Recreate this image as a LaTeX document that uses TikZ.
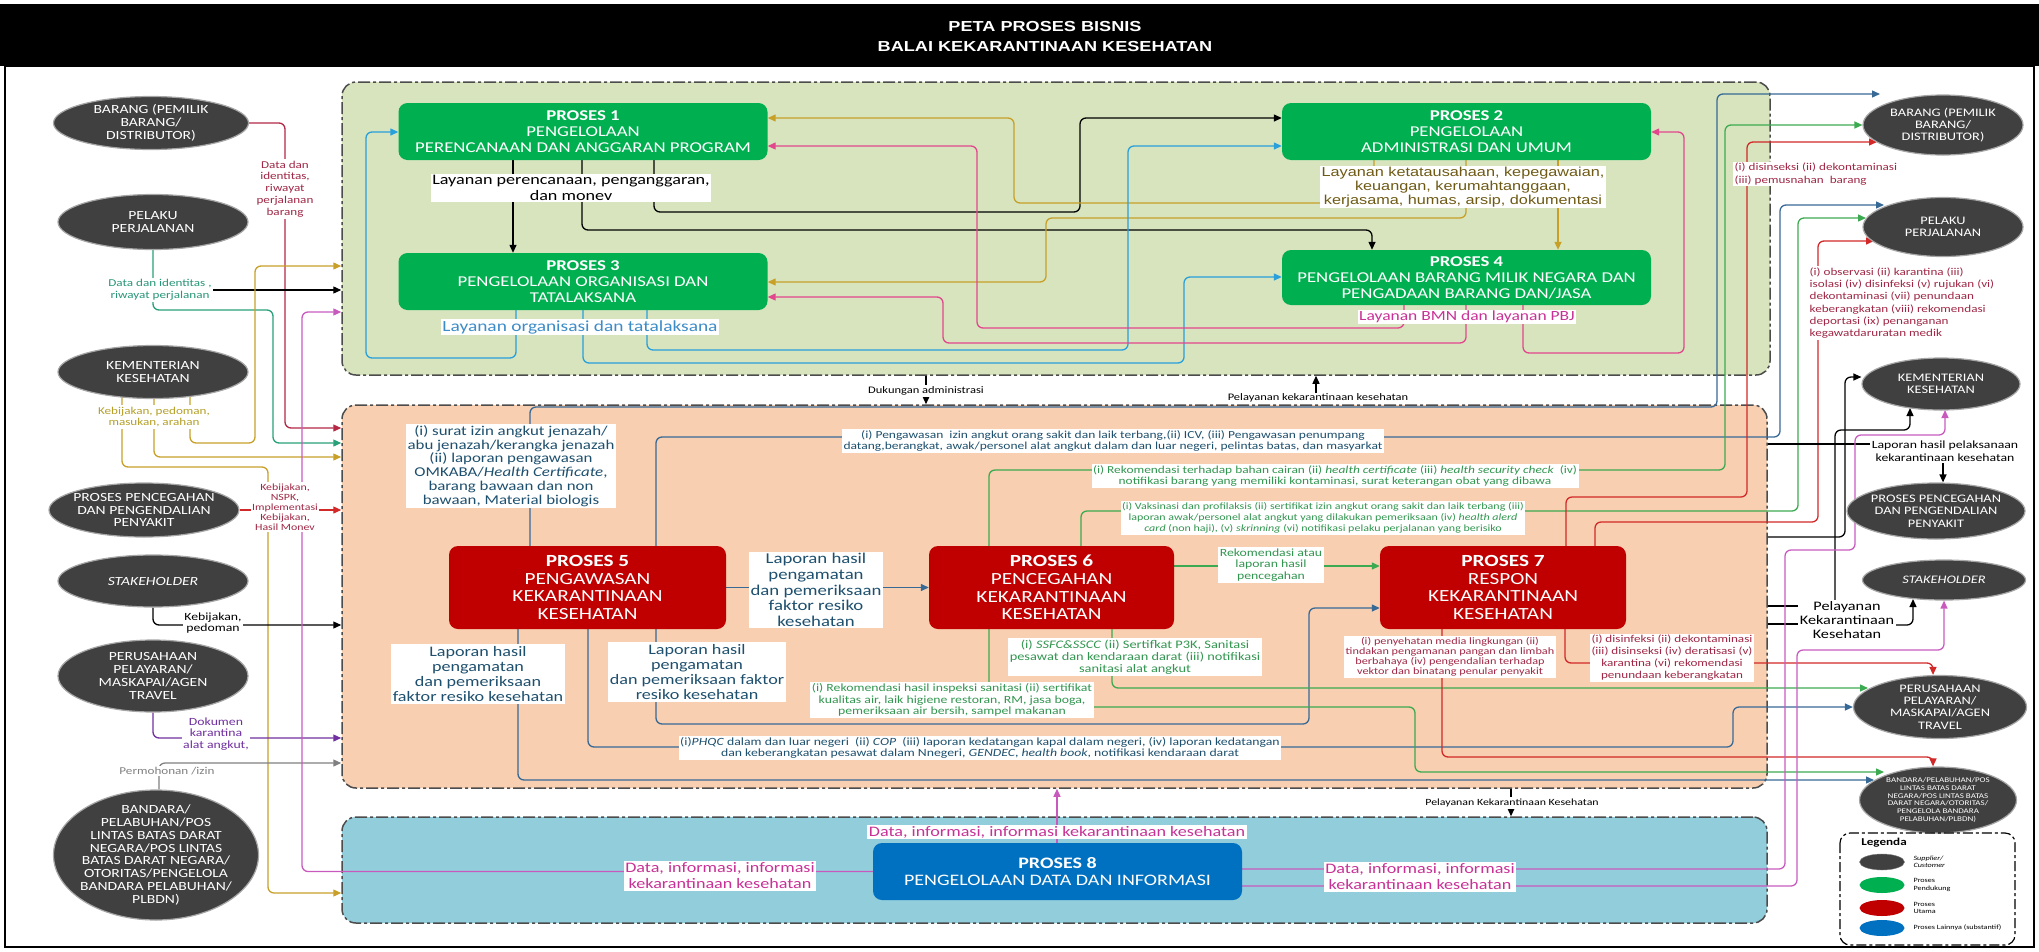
\documentclass[tikz,border=0pt]{standalone}
\usepackage{fontspec}
\setmainfont[FakeStretch=1.25]{Carlito}
\newfontfamily\arialf[FakeStretch=1.25]{Liberation Sans}
\usetikzlibrary{shapes.geometric,arrows.meta}

\definecolor{reggreen}{RGB}{215,228,189}
\definecolor{regorange}{RGB}{248,207,176}
\definecolor{regblue}{RGB}{146,205,220}
\definecolor{actorgray}{RGB}{64,64,64}
\definecolor{boxgreen}{RGB}{0,176,80}
\definecolor{boxred}{RGB}{192,0,0}
\definecolor{boxblue}{RGB}{0,112,192}
\definecolor{lnGold}{RGB}{200,160,40}
\definecolor{lnPink}{RGB}{226,70,140}
\definecolor{lnCyan}{RGB}{40,160,220}
\definecolor{lnSlate}{RGB}{55,105,150}
\definecolor{lnGreen}{RGB}{60,170,80}
\definecolor{lnRed}{RGB}{210,40,40}
\definecolor{lnMaroon}{RGB}{180,40,70}
\definecolor{lnTeal}{RGB}{40,160,120}
\definecolor{lnPurple}{RGB}{112,48,160}
\definecolor{lnLilac}{RGB}{200,90,190}
\definecolor{txMaroon}{RGB}{160,40,70}
\definecolor{txTeal}{RGB}{40,150,120}
\definecolor{txGold}{RGB}{180,160,40}
\definecolor{txOlive}{RGB}{110,90,20}
\definecolor{txBlue}{RGB}{60,140,200}
\definecolor{txPink}{RGB}{200,50,150}
\definecolor{txSlate}{RGB}{30,80,110}
\definecolor{txGreen}{RGB}{50,150,80}

\pgfdeclarelayer{back}
\pgfdeclarelayer{wires}
\pgfsetlayers{back,wires,main}
\newcommand\fsz[2]{\fontsize{#1}{#2}\selectfont}

\begin{document}
\begin{tikzpicture}[x=1pt, y=-1pt,
    region/.style={rectangle, rounded corners=14pt, draw=black!70, line width=1.5pt, dash pattern=on 12pt off 3pt on 3pt off 3pt},
    actor/.style={ellipse, fill=actorgray, draw=gray!70, line width=1.2pt, text=white, align=center, inner xsep=-12pt, inner ysep=-5pt},
    lactor/.style={actor, font=\fsz{12.5}{12.8}},
    ractor/.style={actor, font=\fsz{11.5}{12.3}},
    supportbox/.style={rectangle, rounded corners=9pt, fill=boxgreen, text=white, align=center, inner sep=0pt, minimum width=369pt, minimum height=57pt, font=\fsz{15}{16}},
    mainbox/.style={rectangle, rounded corners=9pt, fill=boxred, text=white, align=center, inner sep=0pt, minimum height=83pt, font=\fsz{17}{17.7}},
    lbl/.style={fill=white, inner sep=1.5pt, align=center},
    wire/.style={line width=1.3pt, rounded corners=6pt},
    flow/.style={wire, -{Triangle[length=8pt,width=7pt]}}
]
\useasboundingbox (0,0) rectangle (2039,951);

% Title bar and frame
\fill (0,4) rectangle (2039,66);
\node[font=\arialf\bfseries\fsz{14.5}{16}, text=white] (title) at (1045,27) {PETA PROSES BISNIS};
\node[font=\arialf\bfseries\fsz{14.5}{16}, text=white] (subtitle) at (1045,47) {BALAI KEKARANTINAAN KESEHATAN};
\draw[line width=2pt] (5,66) rectangle (2034,947);

% Regions
\begin{pgfonlayer}{back}
\node[region, fill=reggreen, minimum width=1428pt, minimum height=293pt] (gReg) at (1056,228.5) {};
\node[region, fill=regorange, minimum width=1425pt, minimum height=383pt] (oReg) at (1054.5,596.5) {};
\node[region, fill=regblue, minimum width=1425pt, minimum height=106pt] (bReg) at (1054.5,870) {};
\end{pgfonlayer}

% Suppliers (left)
\node[lactor, minimum width=195pt, minimum height=53pt] (lBarang) at (151,123) {BARANG (PEMILIK\\BARANG/\\DISTRIBUTOR)};
\node[lactor, minimum width=190pt, minimum height=55pt] (lPelaku) at (153,222) {PELAKU\\PERJALANAN};
\node[lactor, minimum width=190pt, minimum height=53pt] (lKemkes) at (153,372) {KEMENTERIAN\\KESEHATAN};
\node[lactor, minimum width=190pt, minimum height=54pt] (lP2P) at (144,510) {PROSES PENCEGAHAN\\DAN PENGENDALIAN\\PENYAKIT};
\node[lactor, minimum width=190pt, minimum height=52pt] (lStake) at (153,581) {\textit{STAKEHOLDER}};
\node[lactor, minimum width=190pt, minimum height=72pt] (lPerus) at (153,676) {PERUSAHAAN\\PELAYARAN/\\MASKAPAI/AGEN\\TRAVEL};
\node[lactor, minimum width=205pt, minimum height=130pt] (lBandara) at (156,855) {BANDARA/\\PELABUHAN/POS\\LINTAS BATAS DARAT\\NEGARA/POS LINTAS\\BATAS DARAT NEGARA/\\OTORITAS/PENGELOLA\\BANDARA PELABUHAN/\\PLBDN)};

% Customers (right)
\node[ractor, minimum width=160pt, minimum height=60pt] (rBarang) at (1943,125) {BARANG (PEMILIK\\BARANG/\\DISTRIBUTOR)};
\node[ractor, minimum width=160pt, minimum height=59pt] (rPelaku) at (1943,227) {PELAKU\\PERJALANAN};
\node[ractor, minimum width=158pt, minimum height=52pt] (rKemkes) at (1941,384) {KEMENTERIAN\\KESEHATAN};
\node[ractor, minimum width=178pt, minimum height=56pt] (rP2P) at (1936,511) {PROSES PENCEGAHAN\\DAN PENGENDALIAN\\PENYAKIT};
\node[ractor, minimum width=163pt, minimum height=40pt] (rStake) at (1944,580) {\textit{STAKEHOLDER}};
\node[ractor, minimum width=173pt, minimum height=63pt] (rPerus) at (1940,707) {PERUSAHAAN\\PELAYARAN/\\MASKAPAI/AGEN\\TRAVEL};
\node[actor, font=\fsz{7.2}{7.7}, minimum width=157pt, minimum height=66pt] (rBandara) at (1938,800) {BANDARA/PELABUHAN/POS\\LINTAS BATAS DARAT\\NEGARA/POS LINTAS BATAS\\DARAT NEGARA/OTORITAS/\\PENGELOLA BANDARA\\PELABUHAN/PLBDN)};

% Supporting processes
\node[supportbox] (p1) at (583,131.5) {\textbf{PROSES 1}\\PENGELOLAAN\\PERENCANAAN DAN ANGGARAN PROGRAM};
\node[supportbox] (p2) at (1466.5,131.5) {\textbf{PROSES 2}\\PENGELOLAAN\\ADMINISTRASI DAN UMUM};
\node[supportbox] (p3) at (583,281.5) {\textbf{PROSES 3}\\PENGELOLAAN ORGANISASI DAN\\TATALAKSANA};
\node[supportbox, minimum height=55pt] (p4) at (1466.5,277.5) {\textbf{PROSES 4}\\PENGELOLAAN BARANG MILIK NEGARA DAN\\PENGADAAN BARANG DAN/JASA};

% Main processes
\node[mainbox, minimum width=277pt] (p5) at (587.5,587.5) {\textbf{PROSES 5}\\PENGAWASAN\\KEKARANTINAAN\\KESEHATAN};
\node[mainbox, minimum width=245pt] (p6) at (1051.5,587.5) {\textbf{PROSES 6}\\PENCEGAHAN\\KEKARANTINAAN\\KESEHATAN};
\node[mainbox, minimum width=246pt] (p7) at (1503,587.5) {\textbf{PROSES 7}\\RESPON\\KEKARANTINAAN\\KESEHATAN};

% Other process
\node[supportbox, fill=boxblue, font=\fsz{16}{16.7}] (p8) at (1057.5,871.5) {\textbf{PROSES 8}\\PENGELOLAAN DATA DAN INFORMASI};

% Labels outside the regions
\node[lbl, text=txMaroon, font=\fsz{10.5}{11.8}] (lbDataBarang) at (285,189) {Data dan\\identitas,\\riwayat\\perjalanan\\barang};
\node[lbl, text=txTeal, font=\fsz{10.5}{11.8}] (lbDataPelaku) at (160,290) {Data dan identitas ,\\riwayat perjalanan};
\node[lbl, text=txGold, font=\fsz{10.5}{11.8}] (lbKebKem) at (154,417) {Kebijakan, pedoman,\\masukan, arahan};
\node[lbl, text=txMaroon, font=\fsz{9.5}{10}] (lbNSPK) at (285,507) {Kebijakan,\\NSPK,\\Implementasi\\Kebijakan,\\Hasil Monev};
\node[lbl, font=\fsz{11}{11.5}] (lbKebStake) at (213,623) {Kebijakan,\\pedoman};
\node[lbl, text=lnPurple, font=\fsz{11}{11.8}] (lbDokumen) at (216,734) {Dokumen\\karantina\\alat angkut,};
\node[lbl, text=gray, font=\fsz{10.5}{11}] (lbPermohonan) at (167,771) {Permohonan /izin};
\node[lbl, text=txMaroon, font=\fsz{10.5}{12.5}, anchor=west, align=left] (lbDisinseksi) at (1733,174) {(i) disinseksi (ii) dekontaminasi\\(iii) pemusnahan~ barang};
\node[lbl, text=txMaroon, font=\fsz{10.5}{12.2}, anchor=west, align=left] (lbObservasi) at (1808,303) {(i) observasi (ii) karantina (iii)\\isolasi (iv) disinfeksi (v) rujukan (vi)\\dekontaminasi (vii) penundaan\\keberangkatan (viii) rekomendasi\\deportasi (ix) penanganan\\kegawatdaruratan medik};
\node[lbl, font=\fsz{11}{13}] (lbLapPel) at (1945,451) {Laporan hasil pelaksanaan\\kekarantinaan kesehatan};
\node[lbl, font=\fsz{13}{14}] (lbPelKes) at (1847,620) {Pelayanan\\Kekarantinaan\\Kesehatan};
\node[lbl, font=\fsz{10}{11}] (lbDukungan) at (926,391) {Dukungan administrasi};
\node[font=\fsz{10}{11}, inner sep=1pt] (lbPelayanan) at (1318,398) {Pelayanan kekarantinaan kesehatan};
\node[lbl, font=\fsz{9.5}{10}] (lbPelBawah) at (1512,803) {Pelayanan Kekarantinaan Kesehatan};

% Labels in the green region
\node[lbl, font=\fsz{14.5}{16}] (lbP1) at (571,188) {Layanan perencanaan, penganggaran,\\dan monev};
\node[lbl, text=txOlive, font=\arialf\fsz{13}{13.7}] (lbP2) at (1463,187) {Layanan ketatausahaan, kepegawaian,\\keuangan, kerumahtanggaan,\\kerjasama, humas, arsip, dokumentasi};
\node[lbl, text=txBlue, font=\fsz{15.5}{16}] (lbP3) at (580,327) {Layanan organisasi dan tatalaksana};
\node[lbl, text=txPink, font=\fsz{14}{15}] (lbP4) at (1467,317) {Layanan BMN dan layanan PBJ};

% Labels in the orange region
\node[lbl, text=txSlate, font=\fsz{13.5}{13.7}] (lbSurat) at (511,466) {(i) surat izin angkut jenazah/\\abu jenazah/kerangka jenazah\\(ii) laporan pengawasan\\OMKABA/\textit{Health Certificate},\\barang bawaan dan non\\bawaan, Material biologis};
\node[lbl, text=txSlate, font=\fsz{15}{15.7}] (lbLap1) at (816,590) {Laporan hasil\\pengamatan\\dan pemeriksaan\\faktor resiko\\kesehatan};
\node[lbl, text=txSlate, font=\fsz{14.5}{15.3}] (lbLap2) at (478,674) {Laporan hasil\\pengamatan\\dan pemeriksaan\\faktor resiko kesehatan};
\node[lbl, text=txSlate, font=\fsz{14.5}{15.3}] (lbLap3) at (697,672) {Laporan hasil\\pengamatan\\dan pemeriksaan faktor\\resiko kesehatan};
\node[lbl, text=txSlate, font=\fsz{10.8}{11.7}] (lbPengawasan) at (1113,441) {(i) Pengawasan~ izin angkut orang sakit dan laik terbang,(ii) ICV, (iii) Pengawasan penumpang\\datang,berangkat, awak/personel alat angkut dalam dan luar negeri, pelintas batas, dan masyarkat};
\node[lbl, text=txGreen, font=\fsz{10.7}{11.7}] (lbRekBahan) at (1335,476) {(i) Rekomendasi terhadap bahan cairan (ii) \textit{health certificate} (iii) \textit{health security check}~ (iv)\\notifikasi barang yang memiliki kontaminasi, surat keterangan obat yang dibawa};
\node[lbl, text=txGreen, font=\fsz{9.6}{10.8}] (lbVaksin) at (1323,518) {(i) Vaksinasi dan profilaksis (ii) sertifikat izin angkut orang sakit dan laik terbang (iii)\\laporan awak/personel alat angkut yang dilakukan pemeriksaan (iv) \textit{health alerd}\\\textit{card} (non haji), (v) \textit{skrinning} (vi) notifikasi pelaku perjalanan yang berisiko};
\node[lbl, text=txGreen, font=\fsz{11}{11.7}] (lbRekAtau) at (1271,565) {Rekomendasi atau\\laporan hasil\\pencegahan};
\node[lbl, text=txGreen, font=\fsz{11.5}{12}] (lbSSFC) at (1135,657) {(i) \textit{SSFC\&SSCC} (ii) Sertifkat P3K, Sanitasi\\pesawat dan kendaraan darat (iii) notifikasi\\sanitasi alat angkut};
\node[lbl, text=txGreen, font=\fsz{11}{11.5}] (lbRekInsp) at (952,700) {(i) Rekomendasi hasil inspeksi sanitasi (ii) sertifikat\\kualitas air, laik higiene restoran, RM, jasa boga,\\pemeriksaan air bersih, sampel makanan};
\node[lbl, text=txSlate, font=\fsz{11}{11.7}] (lbPHQC) at (980,748) {(i)\textit{PHQC} dalam dan luar negeri~ (ii) \textit{COP}~ (iii) laporan kedatangan kapal dalam negeri, (iv) laporan kedatangan\\dan keberangkatan pesawat dalam Nnegeri, \textit{GENDEC}, \textit{health book}, notifikasi kendaraan darat};
\node[lbl, text=txMaroon, font=\fsz{9.8}{10}] (lbPenyehatan) at (1450,657) {(i) penyehatan media lingkungan (ii)\\tindakan pengamanan pangan dan limbah\\berbahaya (iv) pengendalian terhadap\\vektor dan binatang penular penyakit};
\node[lbl, text=txMaroon, font=\fsz{10.5}{12}] (lbDisinf) at (1672,658) {(i) disinfeksi (ii) dekontaminasi\\(iii) disinseksi (iv) deratisasi (v)\\karantina (vi) rekomendasi\\penundaan keberangkatan};

% Labels in the blue region
\node[lbl, text=txPink, font=\fsz{14.5}{16}] (lbDataL) at (720,876) {Data, informasi, informasi\\kekarantinaan kesehatan};
\node[lbl, text=txPink, font=\fsz{14.5}{16}] (lbDataR) at (1420,877) {Data, informasi, informasi\\kekarantinaan kesehatan};
\node[lbl, text=txPink, font=\fsz{14.5}{16}] (lbDataTop) at (1057,832) {Data, informasi, informasi kekarantinaan kesehatan};

% Arrow ends on the right ellipses
\coordinate (tBarB) at (1880,94);
\coordinate (tBarR) at (1877,142);
\coordinate (tPelB) at (1884,205);
\coordinate (tPelG) at (1866,218);
\coordinate (tPelR) at (1874,241);
\coordinate (tKemK) at (1910,408);
\coordinate (tKemP) at (1945,410);
\coordinate (tStkK) at (1913,599);
\coordinate (tPerG) at (1868,688);
\coordinate (tBanG) at (1884,772);
\coordinate (tBanB) at (1874,780);

\begin{pgfonlayer}{wires}
% Suppliers into the regions
\draw[flow, lnMaroon] (lBarang.east) -| (285,428) -- (oReg.west |- 0,428);
\draw[flow, lnTeal] (lPelaku.south) |- (273,310) |- (oReg.west |- 0,443);
\draw[flow] (lbDataPelaku.east) -- (gReg.west |- lbDataPelaku.east);
\draw[flow, lnGold] (lKemkes -| 190,0) |- (255,443) |- (gReg.west |- 0,266);
\draw[flow, lnGold] (lKemkes -| 154,0) |- (oReg.west |- 0,457);
\draw[flow, lnGold] (lKemkes -| 122,0) |- (268,467) |- (bReg.west |- 0,893);
\draw[flow, lnRed] (lP2P.east) -- (oReg.west |- lP2P.east);
\draw[flow] (lStake.south) |- (oReg.west |- 0,625);
\draw[flow, lnPurple] (lPerus.south) |- (oReg.west |- 0,738);
\draw[flow, gray] (lBandara.north -| 159,0) |- (oReg.west |- 0,763);
\draw[flow, lnLilac] (p8.west) -| (302,312) -- (gReg.west |- 0,312);

% Supporting processes
\draw[flow] (p1.south -| 513,0) -- (p3.north -| 513,0);
\draw[flow] (p1.south -| 654,0) |- (1080,212) |- (p2.west |- 0,118);
\draw[flow] (p1.south -| 582,0) |- (1372,230) -- (p4.north -| 1372,0);
\draw[flow, lnGold] (p2.south -| 1374,0) |- (1014,203) |- (p1.east |- 0,118);
\draw[flow, lnGold] (p2.south -| 1466,0) |- (1046,218) |- (p3.east |- 0,282);
\draw[flow, lnGold] (p2.south -| 1558,0) -- (p4.north -| 1558,0);
\draw[flow, lnCyan] (p3.south -| 516,0) |- (366,358) |- (p1.west |- 0,132);
\draw[flow, lnCyan] (p3.south -| 647,0) |- (1128,350) |- (p2.west |- 0,146);
\draw[flow, lnCyan] (p3.south -| 583,0) |- (1184,363) |- (p4.west |- 0,277);
\draw[flow, lnPink] (p4.south -| 1404,0) |- (977,328) |- (p1.east |- 0,146);
\draw[flow, lnPink] (p4.south -| 1466,0) |- (943,343) |- (p3.east |- 0,297);
\draw[flow, lnPink] (p4.south -| 1523,0) |- (1684,353) |- (p2.east |- 0,132);

% Between the regions
\draw[wire] (gReg.south -| 926,0) -- (lbDukungan.north -| 926,0);
\draw[flow] (lbDukungan.south -| 926,0) -- (oReg.north -| 926,0);
\draw[flow] (lbPelayanan.north -| 1316,0) -- (gReg.south -| 1316,0);
\draw[wire] (oReg.south -| 1511,0) -- (lbPelBawah.north -| 1511,0);
\draw[flow] (lbPelBawah.south -| 1511,0) -- (bReg.north -| 1511,0);
\draw[flow, lnLilac] (p8.north -| 1057,0) -- (oReg.south -| 1057,0);

% Proses 5
\draw[flow, lnSlate] (p5.north -| 530,0) |- (1717,407) |- (tBarB);
\draw[flow, lnSlate] (p5.north -| 656,0) |- (1780,437) |- (tPelB);
\draw[flow, lnSlate] (p5.east) -- (p6.west);
\draw[flow, lnSlate] (p5.south -| 518,0) |- (tBanB);
\draw[flow, lnSlate] (p5.south -| 588,0) |- (1733,747) |- (rPerus.west);
\draw[flow, lnSlate] (p5.south -| 656,0) |- (1309,724) |- (p7.west |- 0,608);

% Proses 6
\draw[flow, lnGreen] (p6.north -| 989,0) |- (1725,470) |- (rBarang.west);
\draw[flow, lnGreen] (p6.north -| 1081,0) |- (1798,511) |- (tPelG);
\draw[flow, lnGreen] (p6.south -| 1112,0) |- (tPerG);
\draw[flow, lnGreen] (p6.south -| 989,0) |- (1415,707) |- (tBanG);
\draw[flow, lnGreen] (p6.east |- 0,566) -- (p7.west |- 0,566);

% Proses 7
\draw[flow, lnRed] (p7.north -| 1566,0) |- (1747,497) |- (tBarR);
\draw[flow, lnRed] (p7.north -| 1595,0) |- (1818,522) |- (tPelR);
\draw[flow, lnRed] (p7.south -| 1565,0) |- (1933,663) -- (rPerus.north -| 1933,0);
\draw[flow, lnRed] (p7.south -| 1442,0) |- (1933,757) -- (rBandara.north -| 1933,0);

% Customers
\draw[wire] (oReg.east |- 0,444) -- (lbLapPel.west |- 0,444);
\draw[flow] (lbLapPel.south -| 1943,0) -- (rP2P.north -| 1943,0);
\draw[flow] (oReg.east |- 0,537) -| (1845,377) -- (rKemkes.west |- 0,377);
\draw[wire] (oReg.east |- 0,606) -- (lbPelKes.west |- 0,606);
\draw[wire] (oReg.east |- 0,624) -- (lbPelKes.west |- 0,624);
\draw[flow] (lbPelKes.east |- 0,625) -| (tStkK);
\draw[flow] (lbPelKes.north -| 1835,0) |- (1910,430) -- (tKemK);
\draw[flow, lnLilac] (p8.east |- 0,869) -| (1785,550) -| (1855,435) -| (tKemP);
\draw[flow, lnLilac] (p8.east |- 0,886) -| (1797,650) -| (rStake.south);
\end{pgfonlayer}

% Legend
\draw[line width=1.2pt, rounded corners=10pt, dash pattern=on 10pt off 3pt on 3pt off 3pt] (1840,833) rectangle (2015,945);
\node[font=\bfseries\fsz{10.5}{12}] (legTitle) at (1884,843) {Legenda};
\node[ellipse, fill=actorgray, draw=gray, minimum width=45pt, minimum height=16pt, inner sep=0pt] (legA) at (1882,862) {};
\node[ellipse, fill=boxgreen, minimum width=45pt, minimum height=16pt, inner sep=0pt] (legB) at (1882,885) {};
\node[ellipse, fill=boxred, minimum width=45pt, minimum height=16pt, inner sep=0pt] (legC) at (1882,908) {};
\node[ellipse, fill=boxblue, minimum width=45pt, minimum height=16pt, inner sep=0pt] (legD) at (1882,928) {};
\node[anchor=west, align=left, font=\itshape\fsz{6.5}{7.5}] (legAt) at (1910,862) {Supplier/\\Customer};
\node[anchor=west, align=left, font=\fsz{6.5}{7.5}] (legBt) at (1910,885) {Proses\\Pendukung};
\node[anchor=west, align=left, font=\fsz{6.5}{7.5}] (legCt) at (1910,908) {Proses\\Utama};
\node[anchor=west, align=left, font=\fsz{6.5}{7.5}] (legDt) at (1910,928) {Proses Lainnya (substantif)};
\end{tikzpicture}
\end{document}
